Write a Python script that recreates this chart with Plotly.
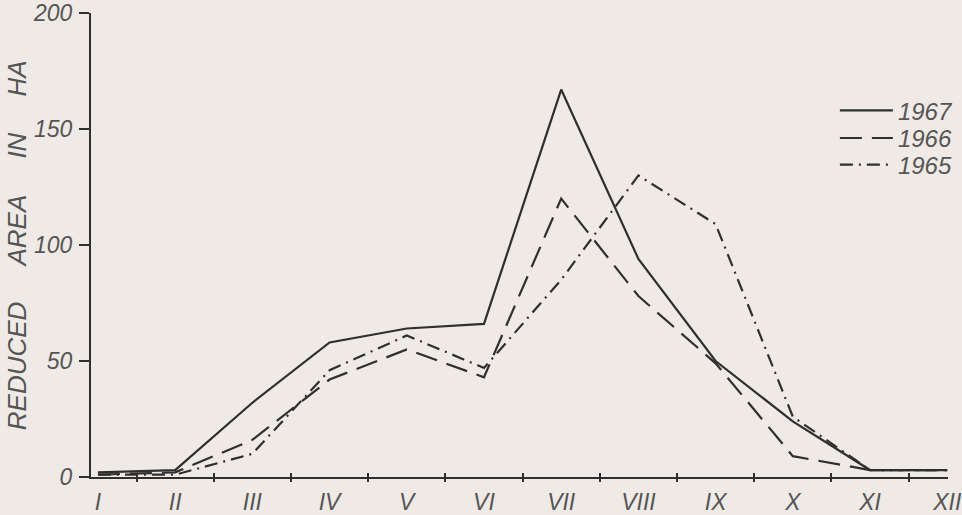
import plotly.graph_objects as go

months = ["I", "II", "III", "IV", "V", "VI", "VII", "VIII", "IX", "X", "XI", "XII"]
y1967 = [2, 3, 32, 58, 64, 66, 167, 94, 50, 24, 3, 3]
y1966 = [1, 2, 16, 42, 55, 43, 120, 78, 49, 9, 3, 3]
y1965 = [1, 1, 10, 46, 61, 47, 85, 130, 109, 26, 3, 3]
y_ticks = [0, 50, 100, 150, 200]

line_col = "#2f2f2f"
text_col = "#555555"
bg = "#efeae5"
font_fam = "Liberation Sans, Arial, sans-serif"

fig = go.Figure()
fig.add_trace(go.Scatter(x=months, y=y1967, mode="lines", name="1967", legend="legend",
                         line=dict(color=line_col, width=2.2, dash="solid")))
fig.add_trace(go.Scatter(x=months, y=y1966, mode="lines", name="1966", legend="legend2",
                         line=dict(color=line_col, width=2.2, dash="22px,10px")))
fig.add_trace(go.Scatter(x=months, y=y1965, mode="lines", name="1965", legend="legend3",
                         line=dict(color=line_col, width=2.2, dash="13px,6px,2px,6px")))
# invisible trace to carry the second (tick-only) x axis
fig.add_trace(go.Scatter(x=months, y=y1967, mode="lines", xaxis="x2",
                         line=dict(width=0), opacity=0, showlegend=False, hoverinfo="skip"))

tickfont = dict(family=font_fam, size=23, color=text_col, style="italic")
legfont = dict(family=font_fam, size=24, color=text_col, style="italic")

def leg(ypix):
    return dict(x=0.868, y=(483 - ypix) / 470, xanchor="left", yanchor="middle",
                bgcolor="rgba(0,0,0,0)", font=legfont, itemwidth=53)

fig.update_layout(
    width=962, height=515, autosize=False,
    margin=dict(l=91, r=0, t=13, b=32),
    paper_bgcolor=bg, plot_bgcolor=bg,
    showlegend=True,
    legend=leg(112), legend2=leg(140), legend3=leg(167),
    xaxis=dict(type="category", categoryorder="array", categoryarray=months,
               range=[-0.09, 11.01], showgrid=False, zeroline=False,
               showline=True, linecolor=line_col, linewidth=2,
               tickson="boundaries", ticks="inside", ticklen=4, tickwidth=1.5, tickcolor=line_col,
               tickfont=tickfont, ticklabelstandoff=3),
    xaxis2=dict(type="category", categoryorder="array", categoryarray=months,
                range=[-0.09, 11.01], overlaying="x", side="bottom", anchor="y",
                showgrid=False, zeroline=False, showline=False,
                tickson="boundaries", ticks="outside", ticklen=4, tickwidth=1.5, tickcolor=line_col,
                showticklabels=False),
    yaxis=dict(range=[0, 200], tickvals=y_ticks, showgrid=False, zeroline=False,
               showline=True, linecolor=line_col, linewidth=2,
               ticks="outside", ticklen=10, tickwidth=1.5, tickcolor=line_col,
               tickfont=tickfont, ticklabelstandoff=2),
)

fig.add_annotation(
    text="REDUCED\u00a0\u00a0\u00a0\u00a0\u00a0AREA\u00a0\u00a0\u00a0\u00a0\u00a0IN\u00a0\u00a0\u00a0\u00a0\u00a0HA",
    xref="paper", yref="paper", x=(16 - 91) / 871, y=(483 - 248) / 470,
    xanchor="center", yanchor="middle", textangle=-90, showarrow=False,
    font=dict(family=font_fam, size=26, color=text_col, style="italic"))

fig.write_html("out.html", config={"responsive": False, "displayModeBar": False},
               post_script="document.body.style.margin='0';document.body.style.overflow='hidden';")
